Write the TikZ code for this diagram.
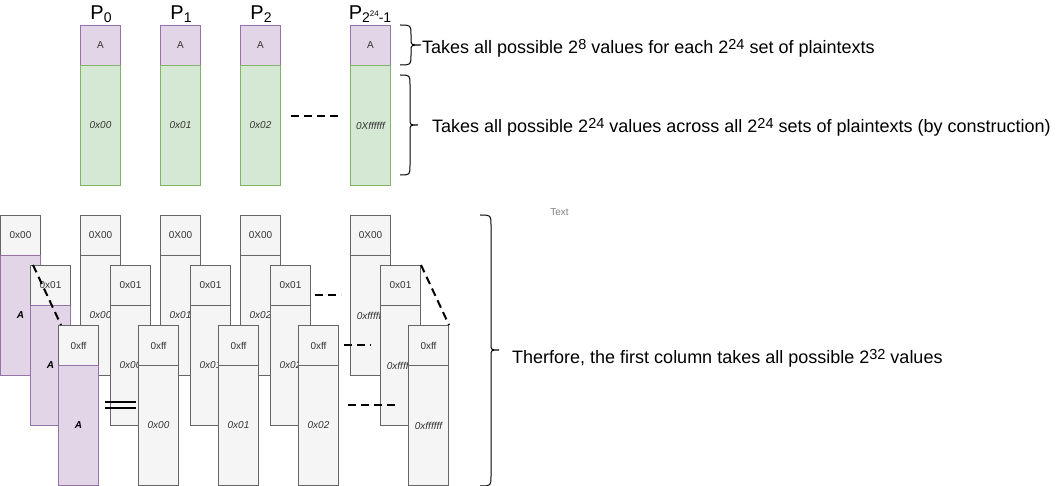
\documentclass[tikz,border=0pt]{standalone}
\usepackage{fontspec}
\setmainfont{Liberation Sans}
\definecolor{pfill}{HTML}{E1D5E7}
\definecolor{pdraw}{HTML}{9673A6}
\definecolor{gfill}{HTML}{D5E8D4}
\definecolor{gdraw}{HTML}{82B366}
\definecolor{hfill}{HTML}{F5F5F5}
\definecolor{hdraw}{HTML}{666666}
\definecolor{tcol}{HTML}{333333}
\definecolor{lgray}{HTML}{808080}
\newcommand\supt[1]{\raisebox{4.5pt}{\fontsize{14.5}{14.5}\selectfont #1}}
\newcommand\subt[1]{\raisebox{-3pt}{\fontsize{14}{14}\selectfont #1}}
\newcommand\cbrace[6]{%
  \draw[line width=1pt] (#1,#4) .. controls (#2,#4) .. (#2,#4+10) -- (#2,#5-6)
    .. controls (#2,#5) .. (#3,#5) .. controls (#2,#5) .. (#2,#5+6) -- (#2,#6-10)
    .. controls (#2,#6) .. (#1,#6);}
\begin{document}
\begin{tikzpicture}[x=1pt,y=-1pt,
  cell/.style={draw, line width=1pt, inner sep=0pt, anchor=north west,
    minimum width=40pt, text=tcol, font=\fontsize{10}{12}\selectfont},
  hcell/.style={cell, fill=hfill, draw=hdraw, minimum height=40pt},
  gbody/.style={cell, fill=hfill, draw=hdraw, minimum height=120pt,
    font=\fontsize{10}{12}\selectfont\itshape},
  pbody/.style={cell, fill=pfill, draw=pdraw, minimum height=120pt, text=black,
    font=\fontsize{10}{12}\selectfont\bfseries\itshape},
  ahead/.style={cell, fill=pfill, draw=pdraw, minimum height=40pt},
  gcol/.style={cell, fill=gfill, draw=gdraw, minimum height=120pt,
    font=\fontsize{10}{12}\selectfont\itshape},
  plabel/.style={anchor=base, inner sep=0pt, font=\fontsize{20}{20}\selectfont},
  bigtext/.style={anchor=base west, inner sep=0pt, font=\fontsize{18}{20}\selectfont},
  dash line/.style={line width=2pt, dash pattern=on 8pt off 5pt},
]
\useasboundingbox (0,0) rectangle (1061,486);

% ---- top columns ----
\foreach \i/\x/\t in {0/80/0x00, 1/160/0x01, 2/240/0x02, 3/350/0Xffffff}{
  \node[ahead] (a\i) at (\x,25) {A};
  \node[gcol] (g\i) at (\x,65) {\t};
}
\node[plabel] (p0) at (101,20) {P\subt{0}};
\node[plabel] (p1) at (181,20) {P\subt{1}};
\node[plabel] (p2) at (261,20) {P\subt{2}};
\node[plabel] (p3) at (370,20) {P\subt{2\raisebox{6pt}{\fontsize{8}{8}\selectfont 24}-1}};

\coordinate (td1) at (291,116);
\coordinate (td2) at (341,116);
\draw[dash line] (td1) -- (td2);

\cbrace{400}{411}{421}{25}{45}{65}
\cbrace{400}{410}{418}{75}{125}{175}

\node[bigtext] (t1) at (422,54) {Takes all possible 2\supt{8} values for each 2\supt{24} set of plaintexts};
\node[bigtext] (t2) at (432,133) {Takes all possible 2\supt{24} values across all 2\supt{24} sets of plaintexts (by construction)};

% ---- bottom stacks ----
% row 1
\node[hcell] (h01) at (0,215) {0x00};
\node[pbody] (b01) at (0,255) {A};
\foreach \s/\x/\t in {1/80/0x00, 2/160/0x01, 3/240/0x02, 4/350/0xffffff}{
  \node[hcell] (h\s1) at (\x,215) {0X00};
  \node[gbody] (b\s1) at (\x,255) {\t};
}
% row 2
\node[hcell] (h02) at (30,265) {0x01};
\node[pbody] (b02) at (30,305) {A};
\foreach \s/\x/\t in {1/110/0x00, 2/190/0x01, 3/270/0x02, 4/380/0xffffff}{
  \node[hcell] (h\s2) at (\x,265) {0x01};
  \node[gbody] (b\s2) at (\x,305) {\t};
}
% row 3
\node[hcell] (h03) at (58,325) {0xff};
\node[pbody] (b03) at (58,365) {A};
\foreach \s/\x/\t in {1/138/0x00, 2/218/0x01, 3/298/0x02, 4/408/0xffffff}{
  \node[hcell] (h\s3) at (\x,325) {0xff};
  \node[gbody] (b\s3) at (\x,365) {\t};
}

% dashed connectors
\draw[dash line] ([xshift=3pt]h02.north west) -- ([xshift=3pt]h03.north west);
\draw[dash line] (h42.north east) -- (h43.north east);
\coordinate (d1a) at (315,295); \coordinate (d1b) at (341,295);
\coordinate (d2a) at (344,345); \coordinate (d2b) at (371,345);
\coordinate (d3a) at (348,405); \coordinate (d3b) at (399,405);
\draw[dash line] (d1a) -- (d1b);
\draw[dash line] (d2a) -- (d2b);
\draw[dash line] (d3a) -- (d3b);

% equals sign
\coordinate (e1a) at (105,402); \coordinate (e1b) at (136,402);
\coordinate (e2a) at (105,408); \coordinate (e2b) at (136,408);
\draw[line width=2pt] (e1a) -- (e1b);
\draw[line width=2pt] (e2a) -- (e2b);

\cbrace{480}{491}{499}{215}{350}{486}
\node[bigtext] (t3) at (512,364) {Therfore, the first column takes all possible 2\supt{32} values};

\node[anchor=base, inner sep=0pt, text=lgray, font=\fontsize{10}{12}\selectfont] (tx) at (559.5,216) {Text};
\end{tikzpicture}
\end{document}
